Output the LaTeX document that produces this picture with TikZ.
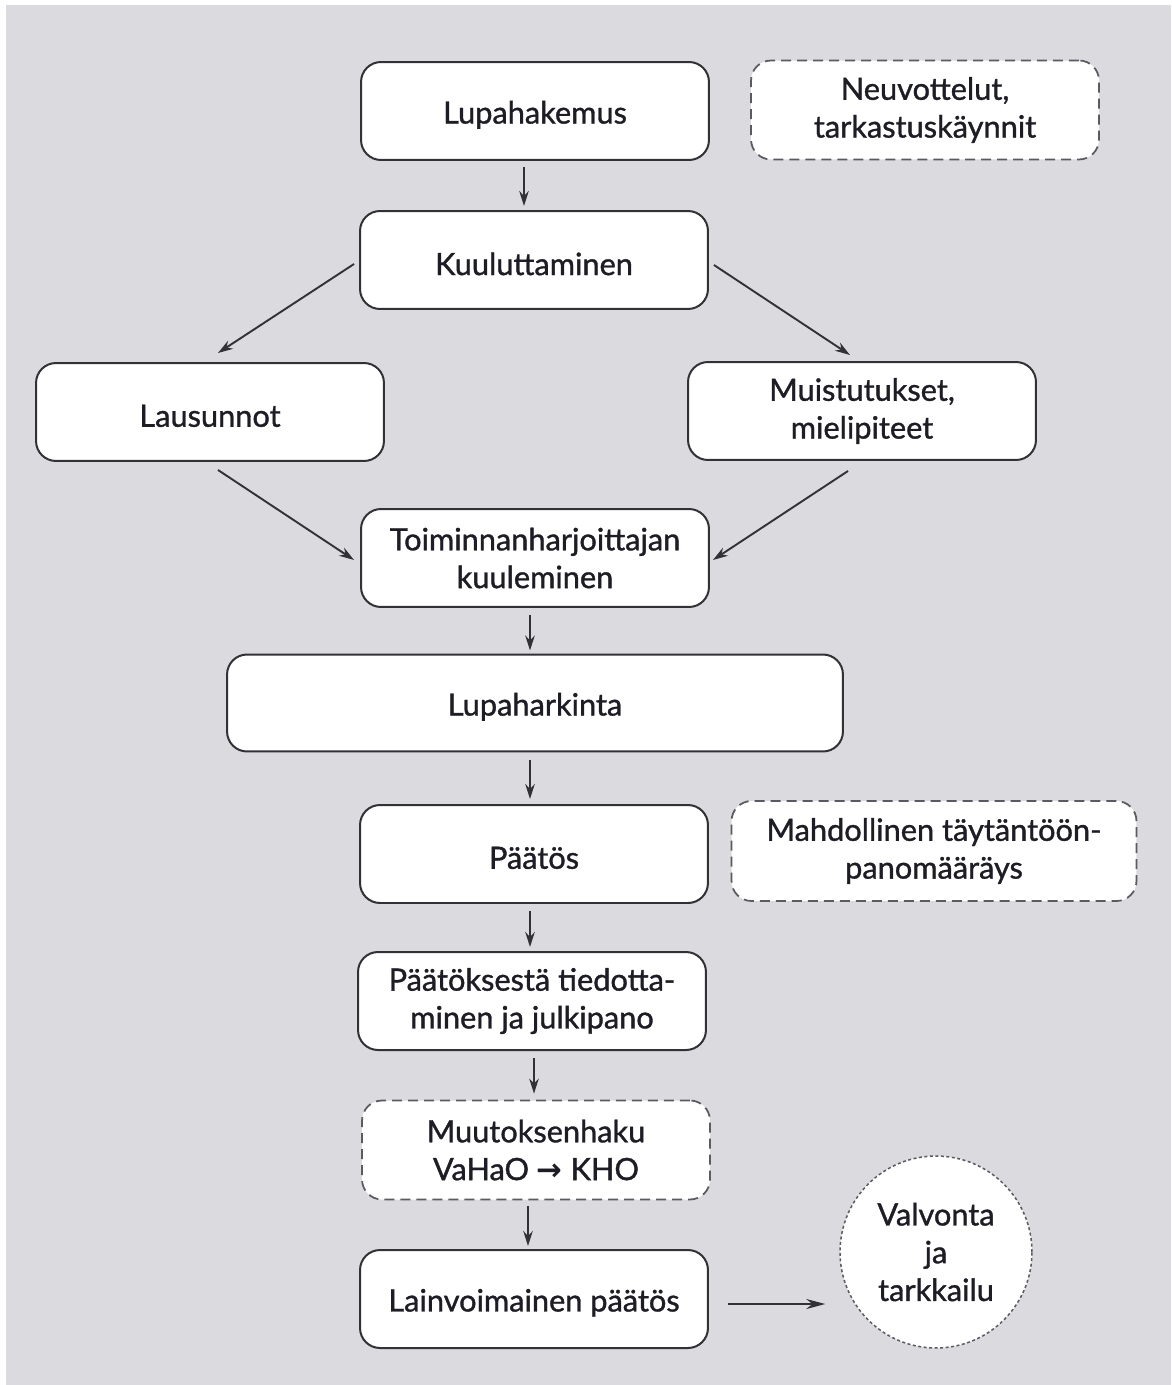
\documentclass[tikz,border=0pt]{standalone}
\usepackage{fontspec}
\setmainfont{Lato}[BoldFont={Lato}, BoldFeatures={FakeBold=1.1}]
\newfontfamily\arrowfont{DejaVu Sans}
\usetikzlibrary{calc,arrows.meta}
\definecolor{bgc}{RGB}{219,218,223}
\definecolor{boxline}{RGB}{50,50,54}
\definecolor{dashline}{RGB}{90,90,96}
\definecolor{txt}{RGB}{30,28,36}
\newcommand{\lowtext}[1]{\raisebox{-2.2pt}[\height][\depth]{#1}}
\begin{document}
\begin{tikzpicture}[x=0.02cm,y=-0.02cm,
  base/.style={fill=white, align=center, inner sep=0pt, text=txt,
    font=\fontsize{17.5}{21.5}\selectfont\bfseries},
  box/.style={base, draw=boxline, line width=0.04cm, rounded corners=0.4cm,
    minimum width=6.96cm, minimum height=1.96cm},
  dbox/.style={base, draw=dashline, line width=0.035cm, rounded corners=0.4cm,
    dash pattern=on 0.2cm off 0.12cm, minimum width=6.96cm, minimum height=1.98cm},
  dcirc/.style={base, circle, draw=dashline, line width=0.03cm,
    dash pattern=on 0.06cm off 0.05cm, minimum size=3.84cm},
  arr/.style={draw=boxline, line width=0.038cm, -{Stealth[length=0.3cm,width=0.19cm]}}
]
\useasboundingbox (0,0) rectangle (1171,1385);
\fill[bgc] (6,5) rectangle (1171,1385);

\node[box] (lupa) at (535,111) {\lowtext{Lupahakemus}};
\node[dbox] (neuv) at (925,110) {Neuvottelut,\\tarkastuskäynnit};
\node[box] (kuul) at (534,260) {\lowtext{Kuuluttaminen}};
\node[box] (laus) at (210,412) {\lowtext{Lausunnot}};
\node[box] (muis) at (862,411) {Muistutukset,\\mielipiteet};
\node[box] (toim) at (535,558) {Toiminnanharjoittajan\\kuuleminen};
\node[box, minimum width=12.32cm, minimum height=1.94cm] (harj) at (535,703) {\lowtext{Lupaharkinta}};
\node[box] (paat) at (534,854) {\lowtext{Päätös}};
\node[dbox, minimum width=8.1cm, minimum height=2.0cm] (mahd) at (934,851) {Mahdollinen täytäntöön-\\panomääräys};
\node[box] (tied) at (532,1001) {Päätöksestä tiedotta-\\minen ja julkipano};
\node[dbox] (muut) at (536,1150) {Muutoksenhaku\\VaHaO {\arrowfont →} KHO};
\node[box] (lain) at (534,1299) {\lowtext{Lainvoimainen päätös}};
\node[dcirc] (valv) at (936,1252) {Valvonta\\ja\\tarkkailu};

\draw[arr] ($(lupa.south)+(-11,6)$) -- ($(kuul.north)+(-10,-4)$);
\draw[arr] ($(kuul.west)+(-5,4)$) -- ($(laus.north)+(8,-9)$);
\draw[arr] ($(kuul.east)+(5,5)$) -- ($(muis.north)+(-12,-6)$);
\draw[arr] ($(laus.south)+(8,8)$) -- ($(toim.west)+(-6,2)$);
\draw[arr] ($(muis.south)+(-14,10)$) -- ($(toim.east)+(3,2)$);
\draw[arr] ($(toim.south)+(-5,7)$) -- ($(harj.north)+(-5,-3)$);
\draw[arr] ($(harj.south)+(-5,8)$) -- ($(paat.north)+(-4,-5)$);
\draw[arr] ($(paat.south)+(-4,7)$) -- ($(tied.north)+(-2,-4)$);
\draw[arr] ($(tied.south)+(2,7)$) -- ($(muut.north)+(-2,-6)$);
\draw[arr] ($(muut.south)+(-8,6)$) -- ($(lain.north)+(-6,-3)$);
\draw[arr, -{Stealth[length=0.38cm,width=0.2cm]}] ($(lain.east)+(19,5)$) -- ($(valv.west)+(-14,52)$);
\end{tikzpicture}
\end{document}
